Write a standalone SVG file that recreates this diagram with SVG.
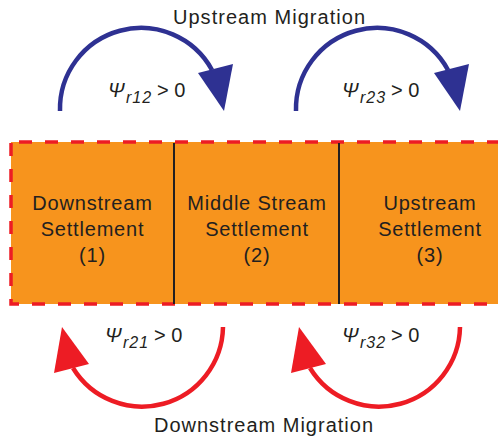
<svg xmlns="http://www.w3.org/2000/svg" width="498" height="439" viewBox="0 0 498 439">
<style>
.t{font-family:"Liberation Sans",Arial,sans-serif;fill:#231F20;}
.big{font-size:20px;}
.box{font-size:20px;letter-spacing:0.8px;text-anchor:middle;}
.psi{font-size:20px;font-style:italic;}
.sub{font-size:16px;font-style:italic;}
.blue{fill:none;stroke:#2E3192;stroke-width:4.5;}
.red{fill:none;stroke:#ED1C24;stroke-width:4.5;}
.bh{fill:#2E3192;}
.rh{fill:#ED1C24;}
</style>
<rect width="498" height="439" fill="#FFFFFF"/>
<g id="settlements">
<rect x="11" y="142" width="512" height="162" fill="#F7941D" stroke="#ED1C24" stroke-width="3.5" stroke-dasharray="13 13" stroke-dashoffset="-8"/>
<line x1="174" y1="143" x2="174" y2="304" stroke="#231F20" stroke-width="2"/>
<line x1="339" y1="143" x2="339" y2="304" stroke="#231F20" stroke-width="2"/>
</g>
<g id="node1">
<text class="t box" x="92.5" y="210">Downstream</text>
<text class="t box" x="92.5" y="236">Settlement</text>
<text class="t box" x="92.5" y="262">(1)</text>
</g>
<g id="node2">
<text class="t box" x="257" y="210">Middle Stream</text>
<text class="t box" x="257" y="236">Settlement</text>
<text class="t box" x="257" y="262">(2)</text>
</g>
<g id="node3">
<text class="t box" x="430" y="210">Upstream</text>
<text class="t box" x="430" y="236">Settlement</text>
<text class="t box" x="430" y="262">(3)</text>
</g>
<g id="connectors">
<path class="blue" d="M60,111 A81,81 0 0 1 212,70"/>
<polygon class="bh" points="198,73 233,64 224,111"/>
<path class="blue" d="M296,111 A81,81 0 0 1 448,70"/>
<polygon class="bh" points="434,73 469,64 460,111"/>
<path class="red" d="M223,327 A81,81 0 0 1 73,368"/>
<polygon class="rh" points="89,364 54,373 62,327"/>
<path class="red" d="M460,327 A81,81 0 0 1 310,368"/>
<polygon class="rh" points="326,364 291,373 299,327"/>
</g>
<g id="labels">
<text class="t big" x="269" y="24" text-anchor="middle" textLength="192" lengthAdjust="spacing">Upstream Migration</text>
<text class="t big" x="263.5" y="432" text-anchor="middle" textLength="219" lengthAdjust="spacing">Downstream Migration</text>
<text class="t psi" x="108" y="97">Ψ</text><text class="t sub" x="126" y="103" letter-spacing="1">r12</text><text class="t big" x="157" y="97">&gt; 0</text>
<text class="t psi" x="342" y="97">Ψ</text><text class="t sub" x="360" y="103" letter-spacing="1">r23</text><text class="t big" x="391" y="97">&gt; 0</text>
<text class="t psi" x="105" y="342">Ψ</text><text class="t sub" x="123" y="348" letter-spacing="1">r21</text><text class="t big" x="154" y="342">&gt; 0</text>
<text class="t psi" x="342" y="342">Ψ</text><text class="t sub" x="360" y="348" letter-spacing="1">r32</text><text class="t big" x="391" y="342">&gt; 0</text>
</g>
</svg>
